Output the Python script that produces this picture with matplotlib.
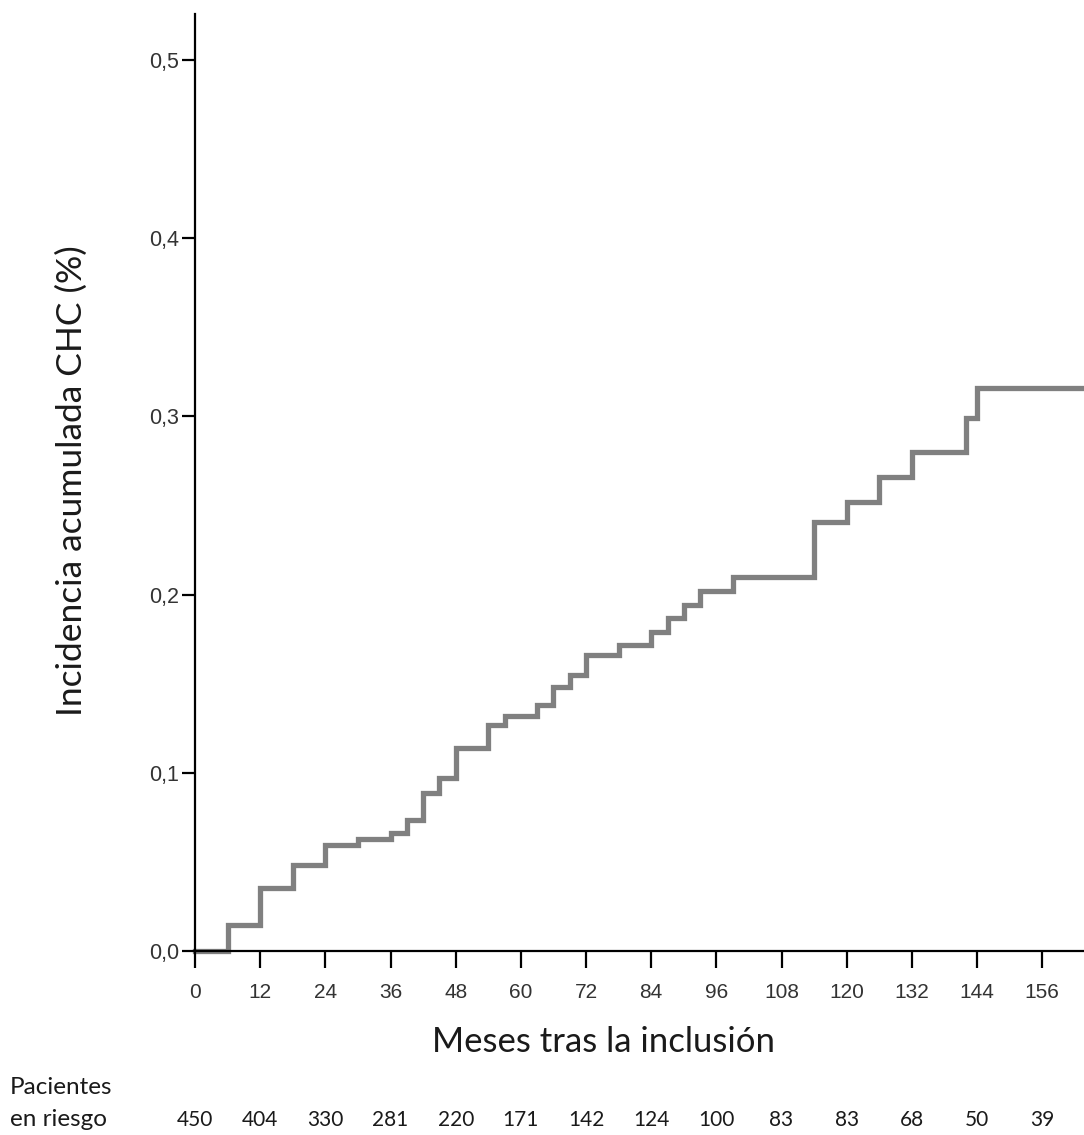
import numpy as np
import matplotlib.pyplot as plt
import matplotlib.transforms as mtransforms

# tiempos de evento (meses) y incidencia acumulada
meses = [0, 6, 12, 18, 24, 30, 36, 39, 42, 45, 48, 54, 57, 63, 66, 69, 72,
         78, 84, 87, 90, 93, 99, 114, 120, 126, 132, 142, 144, 164]
incidencia = [0.0, 0.0146, 0.0354, 0.0483, 0.0596, 0.0629, 0.0663, 0.0736,
              0.0888, 0.0972, 0.114, 0.127, 0.132, 0.138, 0.148, 0.155, 0.166,
              0.172, 0.179, 0.187, 0.194, 0.202, 0.210, 0.241, 0.252, 0.266,
              0.280, 0.299, 0.316, 0.316]

xticks = list(range(0, 157, 12))
yticks = [0.0, 0.1, 0.2, 0.3, 0.4, 0.5]
ytick_labels = ['0,0', '0,1', '0,2', '0,3', '0,4', '0,5']

riesgo_meses = xticks
riesgo_n = [450, 404, 330, 281, 220, 171, 142, 124, 100, 83, 83, 68, 50, 39]

fig = plt.figure(figsize=(10.84, 11.35), dpi=100)
ax = fig.add_axes([0.18, 0.162, 0.82, 0.826])

ax.step(meses, incidencia, where='post', color='#808080', lw=3.8,
        solid_joinstyle='miter', zorder=1, clip_on=False)

ax.set_xlim(0, 163.7)
ax.set_ylim(0, 0.526)

for s in ['top', 'right']:
    ax.spines[s].set_visible(False)
for s in ['left', 'bottom']:
    ax.spines[s].set_linewidth(1.6)
    ax.spines[s].set_color('black')
    ax.spines[s].set_zorder(3)

ax.set_xticks(xticks)
ax.set_xticklabels([str(t) for t in xticks])
ax.set_yticks(yticks)
ax.set_yticklabels(ytick_labels)
ax.tick_params(axis='x', direction='out', length=12, width=1.6, pad=11,
               labelsize=15, labelcolor='#333333')
ax.tick_params(axis='y', direction='out', length=9.5, width=1.6, pad=2,
               labelsize=15.5, labelcolor='#333333')
for lab in ax.get_xticklabels() + ax.get_yticklabels():
    lab.set_family(['Liberation Sans', 'DejaVu Sans'])

fuente = ['Lato', 'DejaVu Sans']
ax.set_xlabel('Meses tras la inclusión', fontsize=25, family=fuente,
              color='#1a1a1a', va='baseline')
ax.xaxis.set_label_coords(0.459, -0.1078)
ax.set_ylabel('Incidencia acumulada CHC (%)', fontsize=25.5, family=fuente,
              color='#1a1a1a', va='baseline')
ax.yaxis.set_label_coords(-0.127, 0.502)

# pacientes en riesgo
trans = mtransforms.blended_transform_factory(ax.transData, fig.transFigure)
for m, n in zip(riesgo_meses, riesgo_n):
    ax.text(m, 1 - 1120 / 1135, str(n), transform=trans, ha='center',
            va='center', fontsize=15, family=fuente, color='#1a1a1a')
fig.text(10 / 1084, 1 - 1087 / 1135, 'Pacientes', ha='left', va='center',
         fontsize=17.5, family=fuente, color='#1a1a1a')
fig.text(10 / 1084, 1 - 1120 / 1135, 'en riesgo', ha='left', va='center',
         fontsize=17.5, family=fuente, color='#1a1a1a')

fig.savefig('out.png', dpi=100)
